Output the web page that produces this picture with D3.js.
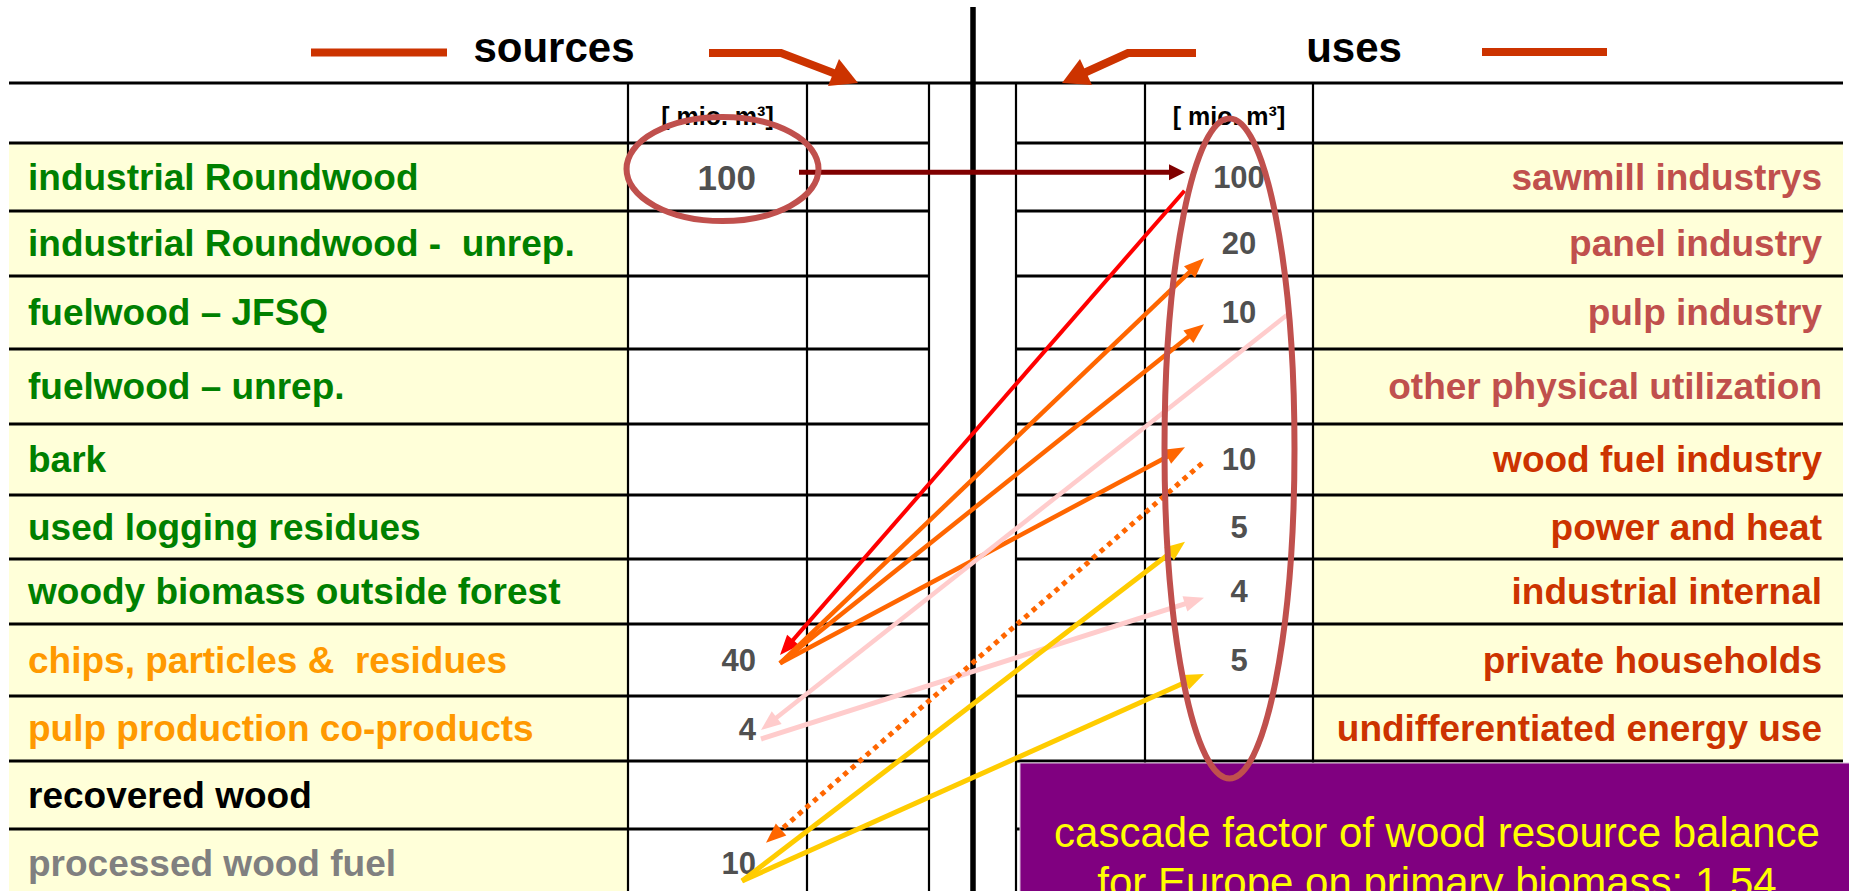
<!DOCTYPE html>
<html><head><meta charset="utf-8">
<script src="https://cdn.jsdelivr.net/npm/d3@7"></script>
<style>
body{margin:0;background:#fff;overflow:hidden;}
svg{display:block;}
text{font-family:"Liberation Sans",Arial,Helvetica,sans-serif;white-space:pre;}
</style>
</head><body>
<svg id="chart" width="1849" height="891"></svg>
<script>
// ---------------- data ----------------
const titles = ["sources", "uses"];
const unitLabel = "[ mio. m³]";
const sourceCategories = [
  "industrial Roundwood",
  "industrial Roundwood -  unrep.",
  "fuelwood – JFSQ",
  "fuelwood – unrep.",
  "bark",
  "used logging residues",
  "woody biomass outside forest",
  "chips, particles &  residues",
  "pulp production co-products",
  "recovered wood",
  "processed wood fuel"
];
const sourceValues = ["100", "", "", "", "", "", "", "40", "4", "", "10"];
const sourceGroups = ["primary","primary","primary","primary","primary","primary","primary",
                      "co-product","co-product","recovered","processed"];
const useCategories = [
  "sawmill industrys",
  "panel industry",
  "pulp industry",
  "other physical utilization",
  "wood fuel industry",
  "power and heat",
  "industrial internal",
  "private households",
  "undifferentiated energy use",
  "",
  ""
];
const useValues = ["100", "20", "10", "", "10", "5", "4", "5", "", "", ""];
const useGroups = ["material","material","material","material",
                   "energy","energy","energy","energy","energy","",""];
// flows between a source row and a use row; head = side of the arrow head
const flowSource = [
  "industrial Roundwood",
  "chips, particles &  residues",
  "chips, particles &  residues",
  "chips, particles &  residues",
  "chips, particles &  residues",
  "pulp production co-products",
  "pulp production co-products",
  "processed wood fuel",
  "processed wood fuel",
  "processed wood fuel"
];
const flowUse = [
  "sawmill industrys",
  "sawmill industrys",
  "panel industry",
  "pulp industry",
  "wood fuel industry",
  "pulp industry",
  "industrial internal",
  "wood fuel industry",
  "power and heat",
  "private households"
];
const flowHead = ["use","source","use","use","use","source","use","source","use","use"];
const noteLines = ["cascade factor of wood resource balance",
                   "for Europe on primary biomass: 1,54"];

// ---------------- styles / layout ----------------
const groupColor = {primary:"#008000","co-product":"#FF9900",recovered:"#000000",processed:"#808080",
                    material:"#C0504D",energy:"#CC3300","":"#000"};
const flowColor = ["#800000","#FF0000","#FF6600","#FF6600","#FF6600","#FFCCCC","#FFCCCC","#FF6600","#FFCC00","#FFCC00"];
const flowWidth = [5,4,4.5,4.5,4.5,4.5,5,5,5,5];
const flowDash  = [null,null,null,null,null,null,null,"5 5",null,null];
const flowSrcX  = [799,780,780,780,780,761,761,766,742,742];
const flowSrcDy = [-4.7,-5,3.3,3.3,3.3,1.5,10.5,-20.3,18,18];
const flowUseX  = [1185,1184.5,1204,1204,1185,1287,1204,1202,1185,1204];
const flowUseDy = [-4.7,13.7,14.8,11.8,-12.2,2.5,6.2,3.8,14.7,14];
const rowHeights = [68,65,73,75,71,64,65,72,65,68,68];

const W = 1849, H = 891;
const col = {l0:9, l1:628, l2:807, l3:929, mid:973, r0:1016, r1:1145, r2:1313, r3:1843};
const topY = 83, headY = 143;
const FILL = "#FFFFD9";

const svg = d3.select("#chart");
const rowTops = [headY].concat(Array.from(d3.cumsum(rowHeights), v => headY + v));
const y = i => rowTops[i];
const rh = i => rowHeights[i];
const cy = i => y(i) + rh(i)/2;

// ---------- fills ----------
svg.append("g").selectAll("rect").data(sourceCategories).join("rect")
  .attr("x", col.l0).attr("y", (d,i)=>y(i)).attr("width", col.l1-col.l0).attr("height", (d,i)=>rh(i))
  .attr("fill", FILL);
svg.append("g").selectAll("rect").data(useCategories).join("rect")
  .attr("x", col.r2).attr("y", (d,i)=>y(i)).attr("width", col.r3-col.r2).attr("height", (d,i)=>rh(i))
  .attr("fill", FILL);

// ---------- grid ----------
const grid = svg.append("g").attr("stroke","#000");
grid.append("line").attr("x1",col.l0).attr("x2",col.r3).attr("y1",topY).attr("y2",topY).attr("stroke-width",3);
rowTops.forEach(yy=>{
  grid.append("line").attr("x1",col.l0).attr("x2",col.l3).attr("y1",yy).attr("y2",yy).attr("stroke-width",3);
  grid.append("line").attr("x1",col.r0).attr("x2",col.r3).attr("y1",yy).attr("y2",yy).attr("stroke-width",3);
});
[col.l1,col.l2,col.l3,col.r0,col.r1,col.r2].forEach(xx=>{
  grid.append("line").attr("x1",xx).attr("x2",xx).attr("y1",topY).attr("y2",H).attr("stroke-width",2.2);
});
grid.append("line").attr("x1",col.mid).attr("x2",col.mid).attr("y1",7).attr("y2",H).attr("stroke-width",5.5);

// ---------- titles & decorations ----------
svg.append("text").attr("x",554).attr("y",62).attr("text-anchor","middle")
  .attr("font-size",42).attr("font-weight","bold").text(titles[0]);
svg.append("text").attr("x",1354).attr("y",62).attr("text-anchor","middle")
  .attr("font-size",42).attr("font-weight","bold").text(titles[1]);
const deco = svg.append("g").attr("stroke","#CC3300").attr("fill","none").attr("stroke-width",8);
deco.append("line").attr("x1",311).attr("x2",447).attr("y1",52.5).attr("y2",52.5);
deco.append("line").attr("x1",1482).attr("x2",1607).attr("y1",52).attr("y2",52);
deco.append("path").attr("d","M709,53 L781,53 L836,74");
deco.append("path").attr("d","M1196,53 L1128,53 L1084,73");
svg.append("polygon").attr("points","828,86 839,59 858,83").attr("fill","#CC3300");
svg.append("polygon").attr("points","1080,59 1092,85 1062,83").attr("fill","#CC3300");

// units
svg.append("text").attr("x",(col.l1+col.l2)/2).attr("y",125).attr("text-anchor","middle")
  .attr("font-size",25).attr("font-weight","bold").text(unitLabel);
svg.append("text").attr("x",(col.r1+col.r2)/2).attr("y",125).attr("text-anchor","middle")
  .attr("font-size",25).attr("font-weight","bold").text(unitLabel);

// ---------- labels ----------
svg.append("g").selectAll("text").data(sourceCategories).join("text")
  .attr("x", 28).attr("y",(d,i)=>cy(i)).attr("dy","0.35em")
  .attr("font-size",37).attr("font-weight","bold")
  .attr("fill",(d,i)=>groupColor[sourceGroups[i]]).text(d=>d);
svg.append("g").selectAll("text").data(useCategories).join("text")
  .attr("x", 1822).attr("y",(d,i)=>cy(i)).attr("dy","0.35em").attr("text-anchor","end")
  .attr("font-size",37).attr("font-weight","bold")
  .attr("fill",(d,i)=>groupColor[useGroups[i]]).text(d=>d);

// ---------- values ----------
svg.append("g").selectAll("text").data(sourceValues).join("text")
  .attr("x", 756).attr("y",(d,i)=>cy(i)).attr("dy","0.36em").attr("text-anchor","end")
  .attr("font-size",(d,i)=> i===0 ? 35 : 31).attr("font-weight","bold")
  .attr("fill","#505050").text(d=>d);
svg.append("g").selectAll("text").data(useValues).join("text")
  .attr("x", 1239).attr("y",(d,i)=>cy(i)).attr("dy","0.34em").attr("text-anchor","middle")
  .attr("font-size",31).attr("font-weight","bold")
  .attr("fill","#505050").text(d=>d);

// ---------- note box ----------
svg.append("rect").attr("x",1020).attr("y",763).attr("width",W-1020+5).attr("height",200)
  .attr("fill","#800080").attr("stroke","#d9c2d9").attr("stroke-width",1);
svg.append("g").selectAll("text").data(noteLines).join("text")
  .attr("x",1437).attr("y",(d,i)=>847 + i*50).attr("text-anchor","middle")
  .attr("font-size",42).attr("fill","#FFFF00").text(d=>d);

// ---------- flows ----------
const fg = svg.append("g");
flowSource.forEach((s,k)=>{
  const si = sourceCategories.indexOf(s), ui = useCategories.indexOf(flowUse[k]);
  const A = [flowSrcX[k], cy(si) + flowSrcDy[k]];
  const B = [flowUseX[k], cy(ui) + flowUseDy[k]];
  const [from,to] = flowHead[k]==="use" ? [A,B] : [B,A];
  const dx = to[0]-from[0], dy = to[1]-from[1], len = Math.hypot(dx,dy);
  const ux = dx/len, uy = dy/len;
  const L = k===0 ? 16 : 20, hw = 8;
  const base = [to[0]-ux*L, to[1]-uy*L];
  const lineEnd = [to[0]-ux*(L-4), to[1]-uy*(L-4)];
  const ln = fg.append("line").attr("x1",from[0]).attr("y1",from[1])
    .attr("x2",lineEnd[0]).attr("y2",lineEnd[1])
    .attr("stroke",flowColor[k]).attr("stroke-width",flowWidth[k]);
  if (flowDash[k]) ln.attr("stroke-dasharray",flowDash[k]);
  fg.append("polygon").attr("points",[
      to, [base[0]-uy*hw, base[1]+ux*hw], [base[0]+uy*hw, base[1]-ux*hw]
    ].map(p=>p.join(",")).join(" ")).attr("fill",flowColor[k]);
});

// ---------- highlight ellipses ----------
svg.append("ellipse").attr("cx",722.5).attr("cy",169).attr("rx",96).attr("ry",52)
  .attr("fill","none").attr("stroke","#C0504D").attr("stroke-width",6);
svg.append("ellipse").attr("cx",1229.5).attr("cy",448.5).attr("rx",65).attr("ry",330)
  .attr("fill","none").attr("stroke","#C0504D").attr("stroke-width",6);
</script>
</body></html>
